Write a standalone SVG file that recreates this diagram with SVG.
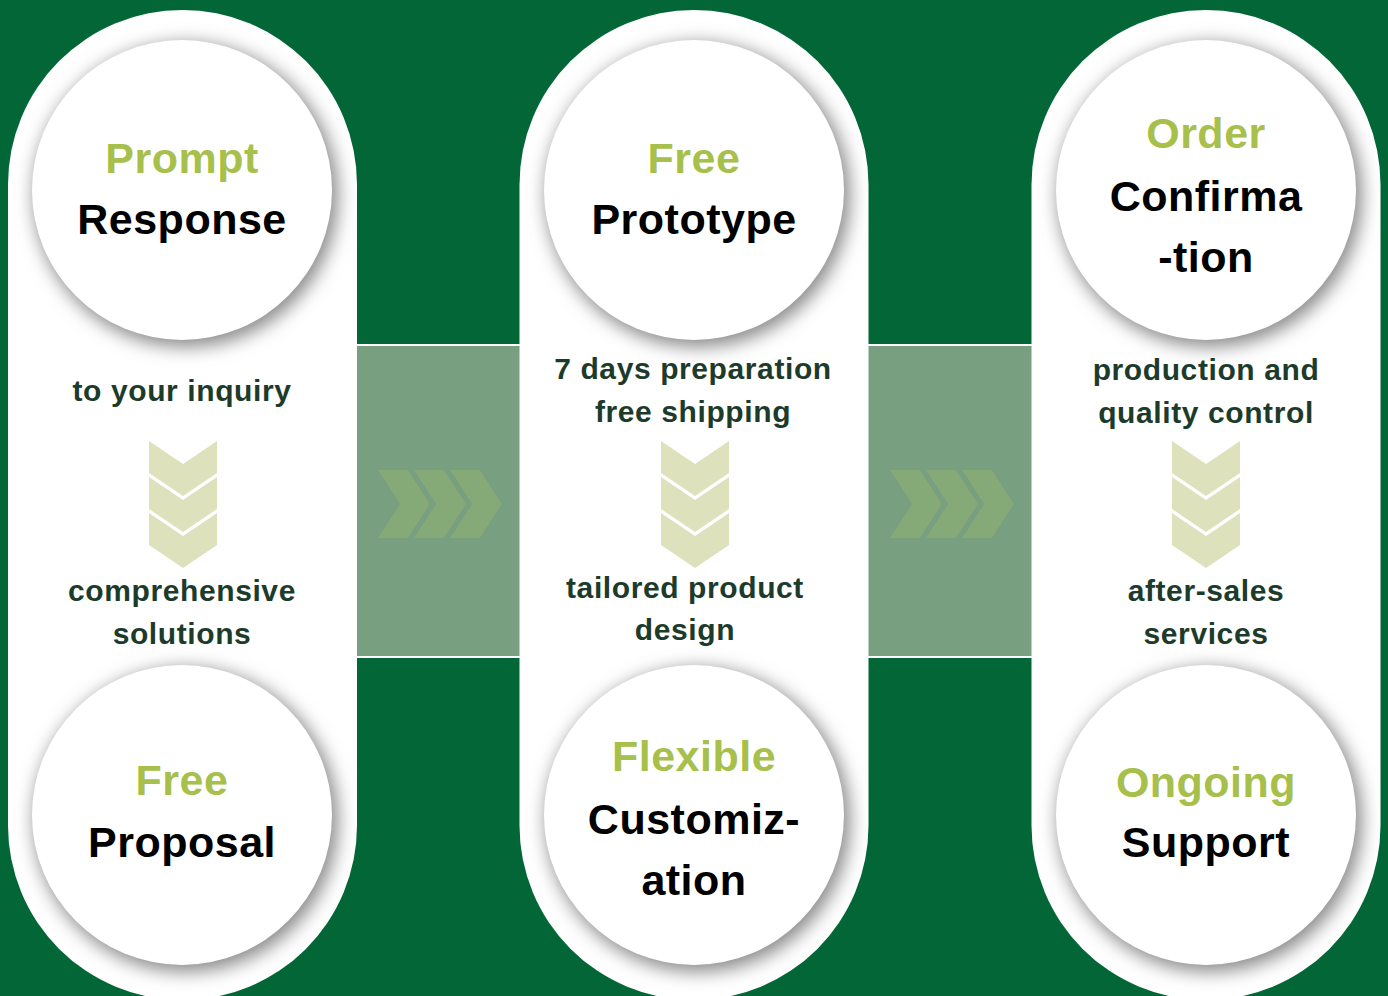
<svg xmlns="http://www.w3.org/2000/svg" width="1388" height="996" viewBox="0 0 1388 996">
<style>
.pill{fill:#ffffff}
.circ{fill:#ffffff}
.shd{fill:#8a8a8a;filter:url(#blur)}
.band{fill:#779f80}
.bline{stroke:#ffffff;stroke-width:2}
.vchev{fill:#dde2bd}
.hchev{fill:#85a977}
.tg{font-family:"Liberation Sans",Arial,sans-serif;font-weight:bold;font-size:43px;fill:#a7c04b;text-anchor:middle;letter-spacing:0.5px}
.tb{font-family:"Liberation Sans",Arial,sans-serif;font-weight:bold;font-size:43px;fill:#000000;text-anchor:middle;letter-spacing:0.5px}
.sm{font-family:"Liberation Sans",Arial,sans-serif;font-weight:bold;font-size:30px;fill:#1d3b2b;text-anchor:middle;letter-spacing:0.6px}
</style>
<defs>
<filter id="blur" x="-20%" y="-20%" width="140%" height="140%"><feGaussianBlur stdDeviation="9"/></filter>
<path id="vc" d="M0,0 L34,23 L68,0 L68,32 L34,55 L0,32 Z"/>
<g id="vstack"><use href="#vc"/><use href="#vc" y="36"/><use href="#vc" y="72"/></g>
<path id="hc" d="M0,0 L30,0 L52,34 L30,68 L0,68 L22,34 Z"/>
<g id="hstack"><use href="#hc"/><use href="#hc" x="36"/><use href="#hc" x="72"/></g>
<clipPath id="cp1"><rect x="8" y="10" width="349" height="990" rx="174.5"/></clipPath>
<clipPath id="cp2"><rect x="519.5" y="10" width="349" height="990" rx="174.5"/></clipPath>
<clipPath id="cp3"><rect x="1031.5" y="10" width="349" height="990" rx="174.5"/></clipPath>
</defs>
<rect width="1388" height="996" fill="#036637"/>

<g id="connectors">
<rect class="band" x="357" y="345" width="163" height="312"/>
<line class="bline" x1="357" y1="345" x2="520" y2="345"/>
<line class="bline" x1="357" y1="657" x2="520" y2="657"/>
<use href="#hstack" x="378" y="470" class="hchev"/>
<rect class="band" x="868" y="345" width="164" height="312"/>
<line class="bline" x1="868" y1="345" x2="1032" y2="345"/>
<line class="bline" x1="868" y1="657" x2="1032" y2="657"/>
<use href="#hstack" x="890" y="470" class="hchev"/>
</g>

<g id="col1">
<rect class="pill" x="8" y="10" width="349" height="990" rx="174.5"/>
<g clip-path="url(#cp1)">
<circle class="shd" cx="186" cy="195" r="152"/>
<circle class="shd" cx="186" cy="820" r="152"/>
</g>
<circle class="circ" cx="182" cy="190" r="150"/>
<circle class="circ" cx="182" cy="815" r="150"/>
<text class="tg" x="182" y="173">Prompt</text>
<text class="tb" x="182" y="234">Response</text>
<text class="sm" x="182" y="401">to your inquiry</text>
<use href="#vstack" x="149" y="441" class="vchev"/>
<text class="sm" x="182" y="601">comprehensive</text>
<text class="sm" x="182" y="644">solutions</text>
<text class="tg" x="182" y="795">Free</text>
<text class="tb" x="182" y="857">Proposal</text>
</g>

<g id="col2">
<rect class="pill" x="519.5" y="10" width="349" height="990" rx="174.5"/>
<g clip-path="url(#cp2)">
<circle class="shd" cx="698" cy="195" r="152"/>
<circle class="shd" cx="698" cy="820" r="152"/>
</g>
<circle class="circ" cx="694" cy="190" r="150"/>
<circle class="circ" cx="694" cy="815" r="150"/>
<text class="tg" x="694" y="173">Free</text>
<text class="tb" x="694" y="234">Prototype</text>
<text class="sm" x="693" y="379">7 days preparation</text>
<text class="sm" x="693" y="422">free shipping</text>
<use href="#vstack" x="661" y="441" class="vchev"/>
<text class="sm" x="685" y="598">tailored product</text>
<text class="sm" x="685" y="640">design</text>
<text class="tg" x="694" y="771">Flexible</text>
<text class="tb" x="694" y="834">Customiz-</text>
<text class="tb" x="694" y="895">ation</text>
</g>

<g id="col3">
<rect class="pill" x="1031.5" y="10" width="349" height="990" rx="174.5"/>
<g clip-path="url(#cp3)">
<circle class="shd" cx="1210" cy="195" r="152"/>
<circle class="shd" cx="1210" cy="820" r="152"/>
</g>
<circle class="circ" cx="1206" cy="190" r="150"/>
<circle class="circ" cx="1206" cy="815" r="150"/>
<text class="tg" x="1206" y="148">Order</text>
<text class="tb" x="1206" y="211">Confirma</text>
<text class="tb" x="1206" y="272">-tion</text>
<text class="sm" x="1206" y="380">production and</text>
<text class="sm" x="1206" y="423">quality control</text>
<use href="#vstack" x="1172" y="441" class="vchev"/>
<text class="sm" x="1206" y="601">after-sales</text>
<text class="sm" x="1206" y="644">services</text>
<text class="tg" x="1206" y="797">Ongoing</text>
<text class="tb" x="1206" y="857">Support</text>
</g>
</svg>
